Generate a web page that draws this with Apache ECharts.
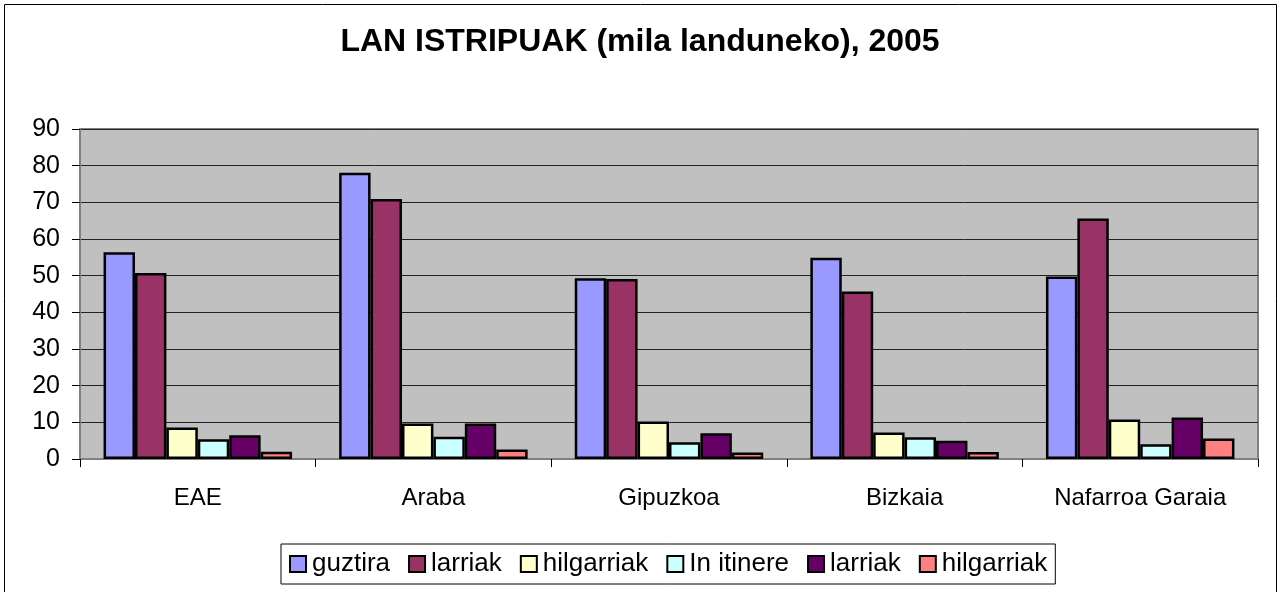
<!DOCTYPE html>
<html>
<head>
<meta charset="utf-8">
<script src="https://cdn.jsdelivr.net/npm/echarts@6/dist/echarts.min.js"></script>
<style>
  html, body { margin: 0; padding: 0; background: #fff; }
  #chart { width: 1280px; height: 592px; }
</style>
</head>
<body>
<div id="chart"></div>
<script>
// LAN ISTRIPUAK (mila landuneko), 2005
const categories = ['EAE', 'Araba', 'Gipuzkoa', 'Bizkaia', 'Nafarroa Garaia']
const seriesIds = ['guztira', 'larriak', 'hilgarriak', 'itinere', 'larriak2', 'hilgarriak2']
const seriesLabels = ['guztira', 'larriak', 'hilgarriak', 'In itinere', 'larriak', 'hilgarriak']
const seriesColors = ['#9999FF', '#993366', '#FFFFCC', '#CCFFFF', '#660066', '#FF8080']

const guztira = [56.4, 78.1, 49.3, 54.9, 49.8]
const larriak = [50.7, 70.9, 49.1, 45.7, 65.6]
const hilgarriak = [8.6, 9.7, 10.2, 7.2, 10.8]
const inItinere = [5.4, 6.1, 4.6, 5.9, 4.0]
const larriak2 = [6.5, 9.7, 7.0, 5.0, 11.3]
const hilgarriak2 = [2.0, 2.6, 1.8, 1.9, 5.6]

const values = [guztira, larriak, hilgarriak, inItinere, larriak2, hilgarriak2]
const yTicks = { min: 0, max: 90, interval: 10 }

const font = 'Liberation Sans, Arial, sans-serif'
let chart = echarts.init(document.getElementById('chart'), null, { renderer: 'canvas' })

let series = seriesIds.map((id, i) => ({
  name: id,
  type: 'bar',
  data: values[i],
  barGap: '0%',
  barCategoryGap: '20%',
  itemStyle: {
    color: seriesColors[i],
    borderColor: '#000',
    borderWidth: 2.5
  },
  emphasis: { disabled: true }
}))

let option = {
  animation: false,
  backgroundColor: '#fff',
  title: {
    text: 'LAN ISTRIPUAK (mila landuneko), 2005',
    left: 'center',
    top: 26,
    padding: 0,
    textStyle: {
      fontFamily: font,
      fontSize: 32,
      fontWeight: 'bold',
      color: '#000'
    }
  },
  legend: {
    data: seriesIds,
    left: 281,
    top: 544,
    padding: [7, 8, 7, 8],
    itemGap: 18,
    itemWidth: 16,
    itemHeight: 16,
    icon: 'rect',
    borderColor: '#000',
    borderWidth: 1,
    formatter: name => seriesLabels[seriesIds.indexOf(name)],
    textStyle: {
      fontFamily: font,
      fontSize: 26,
      color: '#000',
      padding: [0, 0, 0, 1]
    }
  },
  grid: {
    left: 80,
    right: 22,
    top: 129,
    bottom: 133,
    show: true,
    backgroundColor: '#C0C0C0',
    borderColor: '#808080',
    borderWidth: 2
  },
  xAxis: {
    type: 'category',
    data: categories,
    axisLine: { lineStyle: { color: '#808080', width: 2 } },
    axisTick: { show: true, length: 8, lineStyle: { color: '#000' } },
    axisLabel: {
      margin: 27,
      fontFamily: font,
      fontSize: 24,
      color: '#000'
    }
  },
  yAxis: {
    type: 'value',
    min: yTicks.min,
    max: yTicks.max,
    interval: yTicks.interval,
    axisLine: { show: true, lineStyle: { color: '#808080', width: 2 } },
    axisTick: { show: true, length: 8, lineStyle: { color: '#000' } },
    axisLabel: {
      margin: 20,
      fontFamily: font,
      fontSize: 25,
      color: '#000'
    },
    splitLine: { lineStyle: { color: '#222', width: 1 } }
  },
  graphic: [
    {
      type: 'rect',
      shape: { x: 4.5, y: 4.5, width: 1272, height: 620 },
      style: { fill: null, stroke: '#000', lineWidth: 1 },
      silent: true,
      z: -1
    }
  ],
  series: series
}

chart.setOption(option)
</script>
</body>
</html>
